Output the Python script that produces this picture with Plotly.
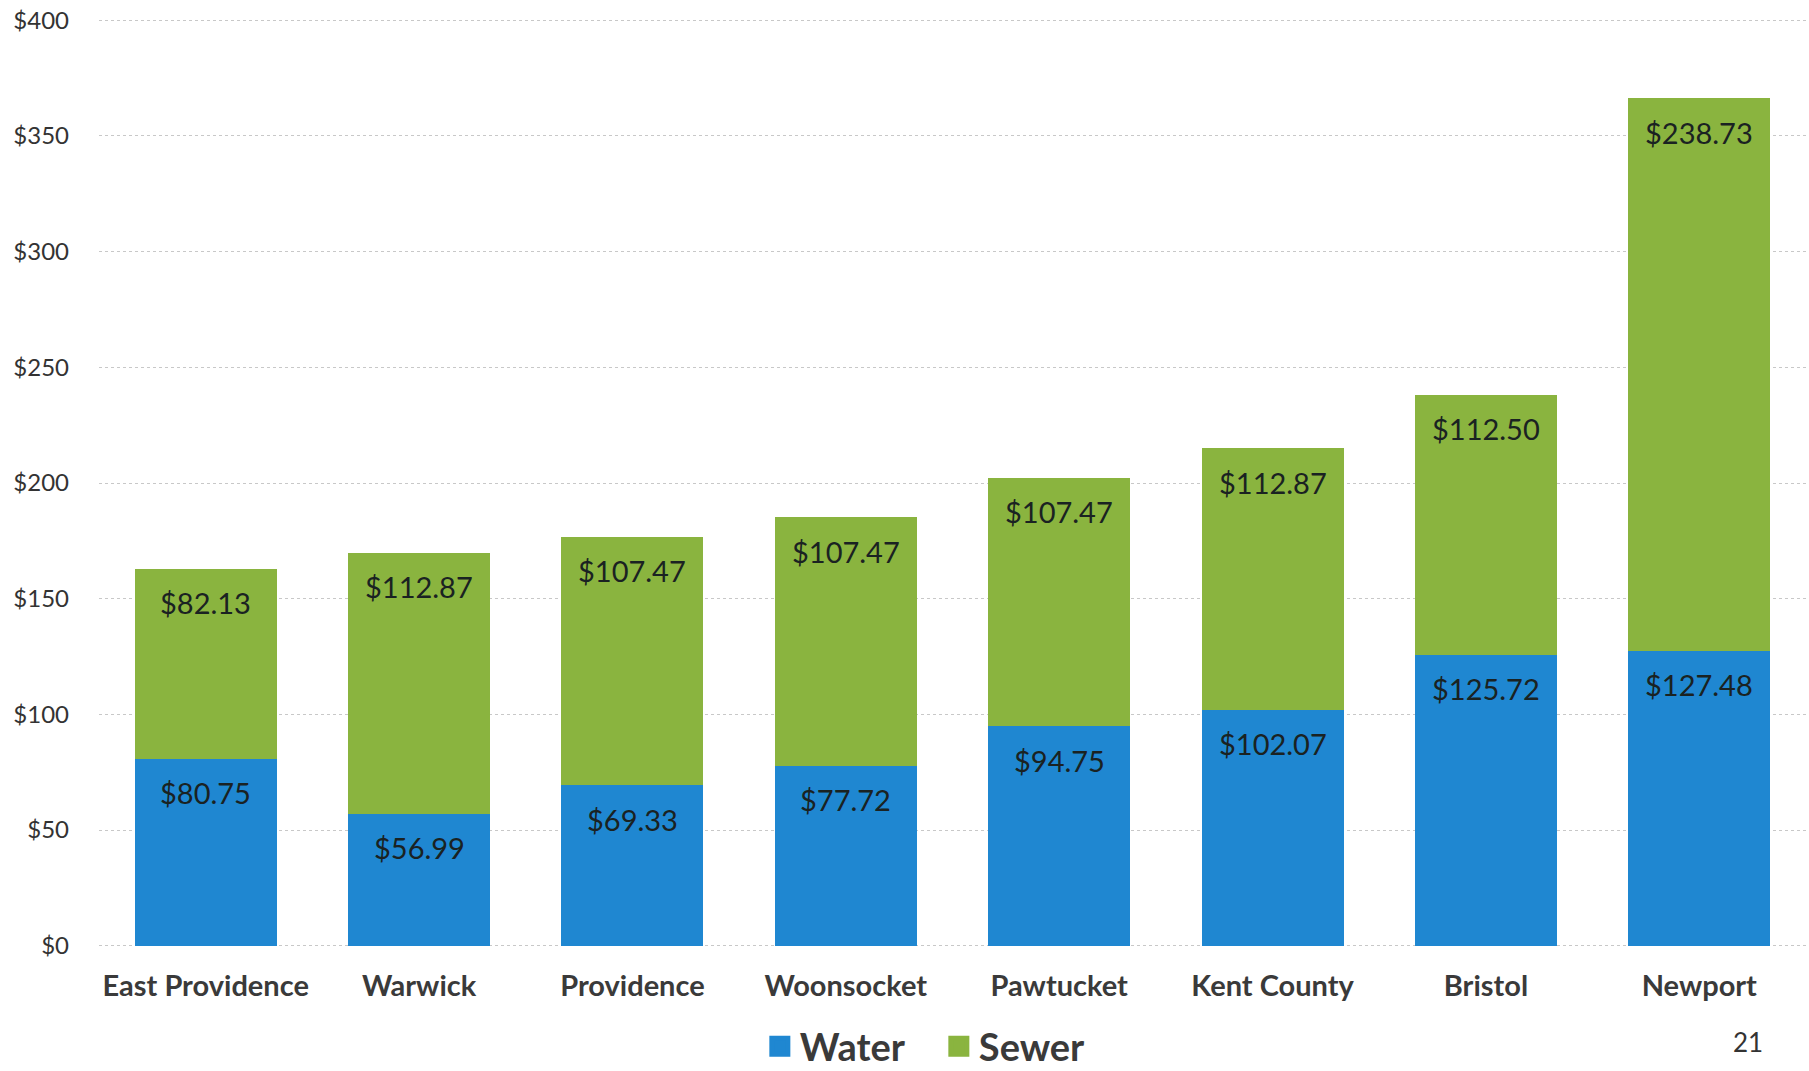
import plotly.graph_objects as go

categories = ["East Providence", "Warwick", "Providence", "Woonsocket",
              "Pawtucket", "Kent County", "Bristol", "Newport"]
water = [80.75, 56.99, 69.33, 77.72, 94.75, 102.07, 125.72, 127.48]
sewer = [82.13, 112.87, 107.47, 107.47, 107.47, 112.87, 112.50, 238.73]
y_ticks = [0, 50, 100, 150, 200, 250, 300, 350, 400]
y_ticktext = [f"${v}" for v in y_ticks]

BLUE = "#1f87d1"
GREEN = "#8ab43f"
LABEL_FONT = "Lato"

fig = go.Figure()
fig.add_trace(go.Bar(x=categories, y=water, name="Water", marker_color=BLUE,
                     marker_line_width=0, showlegend=False))
fig.add_trace(go.Bar(x=categories, y=sewer, name="Sewer", marker_color=GREEN,
                     marker_line_width=0, showlegend=False))

# legend entries with larger square symbols
for nm, col in [("Water", BLUE), ("Sewer", GREEN)]:
    fig.add_trace(go.Scatter(x=[None], y=[None], mode="markers", name=nm,
                             marker=dict(symbol="square", size=16, color=col,
                                         line=dict(color=col, width=5)),
                             showlegend=True))

annotations = []
for c, w, s in zip(categories, water, sewer):
    annotations.append(dict(x=c, y=w, text=f"${w:.2f}", showarrow=False,
                            yanchor="middle", yshift=-34,
                            font=dict(family=LABEL_FONT, size=29, color="#1a2222")))
    annotations.append(dict(x=c, y=w + s, text=f"${s:.2f}", showarrow=False,
                            yanchor="middle", yshift=-34,
                            font=dict(family=LABEL_FONT, size=29, color="#1a2222")))
annotations.append(dict(xref="paper", yref="paper", x=0.966, y=-0.101,
                        text="21", showarrow=False, xanchor="center", yanchor="middle",
                        font=dict(family="Lato", size=26, color="#333333")))

fig.update_layout(
    template="none",
    width=1809, height=1071,
    margin=dict(l=99, r=3, t=18, b=123, autoexpand=False),
    paper_bgcolor="white", plot_bgcolor="white",
    barmode="stack", bargap=0.335,
    annotations=annotations,
    legend=dict(orientation="h", x=0.492, xanchor="center",
                yref="container", y=0.0228, yanchor="middle",
                traceorder="normal", entrywidth=134, entrywidthmode="pixels",
                font=dict(family=LABEL_FONT, size=38, color="#3a3a3a", weight="bold"),
                itemsizing="trace", itemwidth=30, bgcolor="rgba(0,0,0,0)"),
    xaxis=dict(showgrid=False, showline=False, ticks="", zeroline=False,
               automargin=False,
               tickfont=dict(family=LABEL_FONT, size=29, color="#3a3a3a",
                             weight="bold"),
               ticklabelstandoff=18),
    yaxis=dict(range=[-1, 401], tickmode="array", tickvals=y_ticks, ticktext=y_ticktext,
               showgrid=True, gridcolor="#c8c8c8", griddash="dot", gridwidth=1,
               zeroline=False, showline=False, ticks="", automargin=False,
               ticklabeloverflow="allow",
               tickfont=dict(family=LABEL_FONT, size=24, color="#333333"),
               ticklabelstandoff=29),
)

fig.write_html("out.html", config={"displayModeBar": False},
               post_script="document.body.style.margin='0px';")
